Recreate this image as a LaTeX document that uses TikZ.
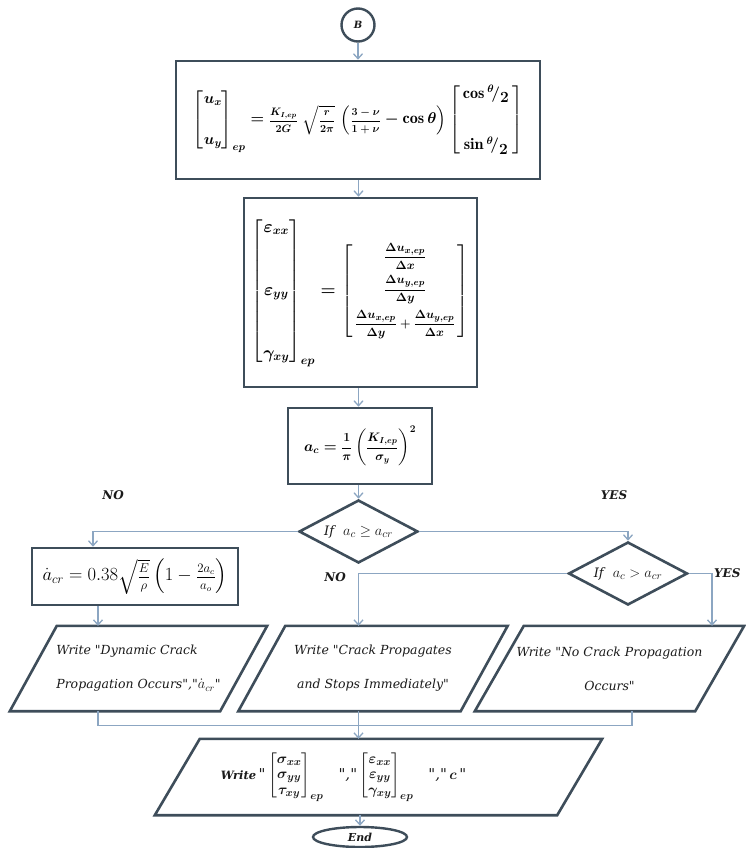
\documentclass[tikz,border=0pt]{standalone}
\usepackage{amsmath,amssymb}
\usepackage{graphicx}
\usepackage{fontspec}
\newfontfamily\cam{DejaVu Serif}
\usetikzlibrary{shapes.geometric,arrows.meta,calc}
\definecolor{edgecol}{HTML}{3E4D5A}
\definecolor{conncol}{HTML}{8CA6C2}
\definecolor{txtcol}{HTML}{1A1A1A}
\newcommand\mfrac[3]{\mbox{\fontsize{#1}{#1}\selectfont$\displaystyle\frac{#2}{#3}$}}
\newcommand\eqOne{\resizebox{330pt}{!}{\fontsize{18}{21.6}\selectfont\boldmath
$\left[\begin{array}{@{}c@{}}u_x\\[24pt]u_y\end{array}\right]_{ep}
=\mfrac{12}{K_{I,ep}}{2G}\;\sqrt{\mfrac{12}{r}{2\pi}}\,\left(\mfrac{12}{3-\nu}{1+\nu}-\cos\theta\right)
\left[\begin{array}{@{\,}c@{\,}}\cos{}^{\theta}\!/_{\textstyle 2}\\[36pt]\sin{}^{\theta}\!/_{\textstyle 2}\end{array}\right]$}}
\newcommand\eqTwo{{\fontsize{17}{20}\selectfont\boldmath
$\left[\begin{array}{@{}c@{}}\varepsilon_{xx}\\[43pt]\varepsilon_{yy}\\[43pt]\gamma_{xy}\end{array}\right]_{ep}
=
\left[\vcenter{\hbox{\fontsize{12.5}{14}\selectfont$\begin{array}{@{\,}c@{\,}}
\dfrac{\Delta u_{x,ep}}{\Delta x}\\\noalign{\vskip 6pt}
\dfrac{\Delta u_{y,ep}}{\Delta y}\\\noalign{\vskip 6pt}
\dfrac{\Delta u_{x,ep}}{\Delta y}+\dfrac{\Delta u_{y,ep}}{\Delta x}
\end{array}$}}\right]$}}
\newcommand\eqThree{\resizebox{112pt}{!}{\fontsize{18}{21}\selectfont\boldmath
$a_c=\mfrac{14}{1}{\pi}\left(\mfrac{14}{K_{I,ep}}{\sigma_y}\right)^{2}$}}
\newcommand\eqFour{\resizebox{185pt}{!}{\fontsize{18}{21}\selectfont
$\dot{a}_{cr}=0.38\sqrt{\mfrac{12}{E}{\rho}}\left(1-\mfrac{12}{2a_c}{a_o}\right)$}}
\newcommand\sigmat{{\boldmath$\left[\begin{array}{@{}c@{}}\sigma_{xx}\\\sigma_{yy}\\\tau_{xy}\end{array}\right]_{ep}$}}
\newcommand\epsmat{{\boldmath$\left[\begin{array}{@{}c@{}}\varepsilon_{xx}\\\varepsilon_{yy}\\\gamma_{xy}\end{array}\right]_{ep}$}}
\newcommand\writeAll{{\cam\bfseries\itshape\fontsize{11.5}{13}\selectfont Write}\,{\cam\itshape"}\,\sigmat\quad{\cam\itshape","}\,\epsmat\quad{\cam\itshape","}\,{\boldmath$c$}\,{\cam\itshape"}\hspace*{70pt}}
\newcommand\txtOne{Write "Dynamic Crack\\Propagation Occurs","{\fontsize{14}{14}\selectfont$\dot{a}_{cr}$}"}
\tikzset{
  box/.style={draw=edgecol,line width=2.6pt,rectangle,inner sep=0pt,text=black},
  dia/.style={draw=edgecol,line width=2.6pt,diamond,aspect=1.9,inner sep=0pt,
    minimum width=119pt,minimum height=63pt,font=\fontsize{15}{17}\selectfont,text=txtcol},
  paratext/.style={inner sep=0pt,text=txtcol},
  paraline/.style={draw=edgecol,line width=2.6pt,line join=miter},
  conn/.style={draw=conncol,line width=1.3pt},
  arr/.style={conn,-{Straight Barb[length=5pt,width=9pt]}},
  lab/.style={font=\cam\bfseries\itshape\fontsize{12}{14}\selectfont,text=txtcol},
  ptxt/.style={font=\cam\itshape\fontsize{12.5}{34}\selectfont},
}
\begin{document}
\begin{tikzpicture}[x=1pt,y=-1pt]
\fill[white] (0,0) rectangle (745,848);
\useasboundingbox (0,0) rectangle (745,848);

\node[circle,draw=edgecol,line width=2.4pt,minimum size=33pt,inner sep=0pt,
  font=\cam\bfseries\itshape\fontsize{10}{12}\selectfont,text=txtcol] (B) at (358,25) {B};

\node[box,minimum width=364pt,minimum height=118pt] (B1) at (358,120) {\eqOne};
\node[box,minimum width=233pt,minimum height=189pt] (B2) at (360.5,292.5) {\eqTwo};
\node[box,minimum width=144pt,minimum height=76pt] (B3) at (360,446) {\eqThree};
\node[dia] (D1) at (358.5,531.5) {{\cam\itshape\fontsize{13}{15}\selectfont If}\ \ $a_c\geq a_{cr}$};
\node[box,minimum width=206pt,minimum height=57pt] (B4) at (135,576.5) {\eqFour};
\node[dia] (D2) at (628,573.5) {{\cam\itshape\fontsize{13}{15}\selectfont If}\ \ $a_c> a_{cr}$};

\node[paratext,ptxt,minimum width=210pt,minimum height=85pt,align=left] (P1) at (138.5,668.5) {\txtOne};
\node[paratext,ptxt,minimum width=222pt,minimum height=85pt,align=center] (P2) at (373,668.5)
  {Write "Crack Propagates\\and Stops Immediately"};
\node[paratext,ptxt,minimum width=220pt,minimum height=85pt,align=center] (P3) at (609.5,668.5)
  {Write "No Crack Propagation\\Occurs"};
\node[paratext,minimum width=402pt,minimum height=76pt,
  font=\fontsize{15}{15.5}\selectfont] (P4) at (378.5,777) {\writeAll};

\draw[paraline] ([xshift=-23.5pt]P1.south west) -- ([xshift=-23.5pt]P1.south east)
  -- ([xshift=23.5pt]P1.north east) -- ([xshift=23.5pt]P1.north west) -- cycle;
\draw[paraline] ([xshift=-23.5pt]P2.south west) -- ([xshift=-23.5pt]P2.south east)
  -- ([xshift=23.5pt]P2.north east) -- ([xshift=23.5pt]P2.north west) -- cycle;
\draw[paraline] ([xshift=-24.5pt]P3.south west) -- ([xshift=-24.5pt]P3.south east)
  -- ([xshift=24.5pt]P3.north east) -- ([xshift=24.5pt]P3.north west) -- cycle;
\draw[paraline] ([xshift=-22.5pt]P4.south west) -- ([xshift=-22.5pt]P4.south east)
  -- ([xshift=22.5pt]P4.north east) -- ([xshift=22.5pt]P4.north west) -- cycle;

\node[ellipse,draw=edgecol,line width=2.4pt,minimum width=94pt,minimum height=20pt,
  inner sep=0pt,font=\cam\bfseries\itshape\fontsize{11}{13}\selectfont,text=txtcol] (End) at (360,837) {End};

\node[lab] (no1) at (113,495) {NO};
\node[lab] (yes1) at (614,495) {YES};
\node[lab] (no2) at (335,577) {NO};
\node[lab,anchor=east] (yes2) at (744,573) {YES};

\draw[arr] (B.south) -- (B.south |- B1.north);
\draw[arr] (D1.north |- B1.south) -- (D1.north |- B2.north);
\draw[arr] (D1.north |- B2.south) -- (D1.north |- B3.north);
\draw[arr] (D1.north |- B3.south) -- (D1.north);
\draw[arr] (D1.west) -| ([xshift=-42pt]B4.north);
\draw[arr] ([xshift=-37pt]B4.south) -- ([xshift=-37pt]B4.south |- P1.north);
\draw[arr] (D1.east) -| (D2.north);
\draw[arr] (D2.west) -| (D1.south |- P2.north);
\draw[arr] (D2.east) -| ([xshift=102.5pt]P3.north);
\draw[conn] ([xshift=-40.5pt]P1.south) -- ++(0,14) -| ([xshift=22.5pt]P3.south);
\draw[arr] (D1.south |- P2.south) -- (D1.south |- P4.north);
\draw[arr] (End.north |- P4.south) -- (End.north);
\end{tikzpicture}
\end{document}
